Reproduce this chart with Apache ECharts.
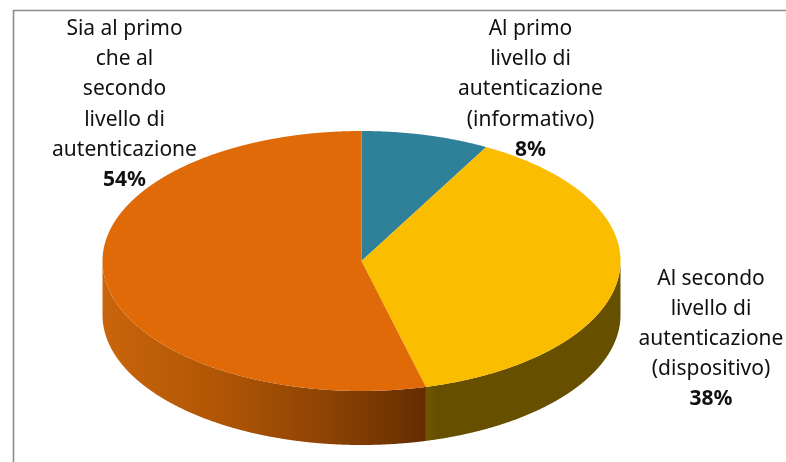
<!DOCTYPE html>
<html>
<head>
<meta charset="utf-8">
<style>html,body{margin:0;padding:0;background:#fff}#c{width:786px;height:462px}</style>
<script src="https://cdn.jsdelivr.net/npm/echarts@6/dist/echarts.min.js"></script>
</head>
<body>
<div id="c"></div>
<script>
// Survey shares by authentication level
const categories = [
  'Al primo\nlivello di\nautenticazione\n(informativo)',
  'Al secondo\nlivello di\nautenticazione\n(dispositivo)',
  'Sia al primo\nche al\nsecondo\nlivello di\nautenticazione'
];
const shares = [8, 38, 54];
const topColors = ['#2F8199', '#FBBD00', '#E06A08'];
const labelAnchors = [[530.5, 14], [711, 263.5], [124.5, 14]];

// Tilted disc: centre, horizontal and vertical radii, wall height
const cx = 361.5, cy = 261, rx = 259, ry = 130, depth = 54;

const wallFill = [
  '#1C4E5C',
  { type: 'linear', x: 0, y: 0, x2: 1, y2: 0, colorStops: [
    { offset: 0, color: '#6E5600' }, { offset: 0.06, color: '#665000' }, { offset: 1, color: '#665000' }] },
  { type: 'linear', x: 0, y: 0, x2: 1, y2: 0, colorStops: [
    { offset: 0, color: '#C9650C' }, { offset: 0.35, color: '#B15605' },
    { offset: 0.7, color: '#8C4303' }, { offset: 1, color: '#652C00' }] }
];

const total = shares.reduce((a, b) => a + b, 0);
const rimPoint = (t, dy) => [cx + rx * Math.sin(t), cy - ry * Math.cos(t) + (dy || 0)];

function arcPoints(a0, a1, dy) {
  const n = Math.max(2, Math.ceil(Math.abs(a1 - a0) / 0.003));
  const pts = [];
  for (let i = 0; i <= n; i++) pts.push(rimPoint(a0 + (a1 - a0) * i / n, dy));
  return pts;
}

function renderSlice(params, api) {
  const i = params.dataIndex;
  const before = shares.slice(0, i).reduce((a, b) => a + b, 0);
  const a0 = before / total * 2 * Math.PI;
  const a1 = (before + api.value(0)) / total * 2 * Math.PI;
  const children = [];

  // Only the front half of the rim (pi/2 to 3pi/2) shows a wall
  const w0 = Math.max(a0, Math.PI / 2), w1 = Math.min(a1, 1.5 * Math.PI);
  if (w1 > w0) {
    const pts = arcPoints(w0, w1, 0).concat(arcPoints(w1, w0, depth));
    children.push({ type: 'polygon', z2: 1, shape: { points: pts },
      style: { fill: wallFill[i], stroke: null } });
  }
  children.push({ type: 'polygon', z2: 2,
    shape: { points: [[cx, cy]].concat(arcPoints(a0, a1, 0)) },
    style: { fill: topColors[i], stroke: null } });
  children.push({ type: 'text', z2: 10, x: labelAnchors[i][0], y: labelAnchors[i][1],
    style: {
      text: categories[i].split('\n').map(s => '{n|' + s + '}').join('\n') + '\n{p|' + api.value(0) + '%}',
      align: 'center', verticalAlign: 'top',
      rich: {
        n: { fontFamily: 'Noto Sans', fontSize: 21, lineHeight: 30.2, fill: '#111', color: '#111' },
        p: { fontFamily: 'Noto Sans', fontSize: 21, lineHeight: 30.2, fontWeight: 'bold', fill: '#111', color: '#111' }
      }
    } });
  return { type: 'group', children };
}

const chart = echarts.init(document.getElementById('c'), null, { renderer: 'canvas' });
chart.setOption({
  animation: false,
  backgroundColor: '#fff',
  graphic: [
    { type: 'polyline', silent: true, shape: { points: [[13.5, 462], [13.5, 10.5], [786, 10.5]] },
      style: { stroke: '#8C8C8C', lineWidth: 1.6, fill: null } }
  ],
  series: [{
    type: 'custom',
    coordinateSystem: 'none',
    renderItem: renderSlice,
    data: shares.map(v => [v])
  }]
});
</script>
</body>
</html>
